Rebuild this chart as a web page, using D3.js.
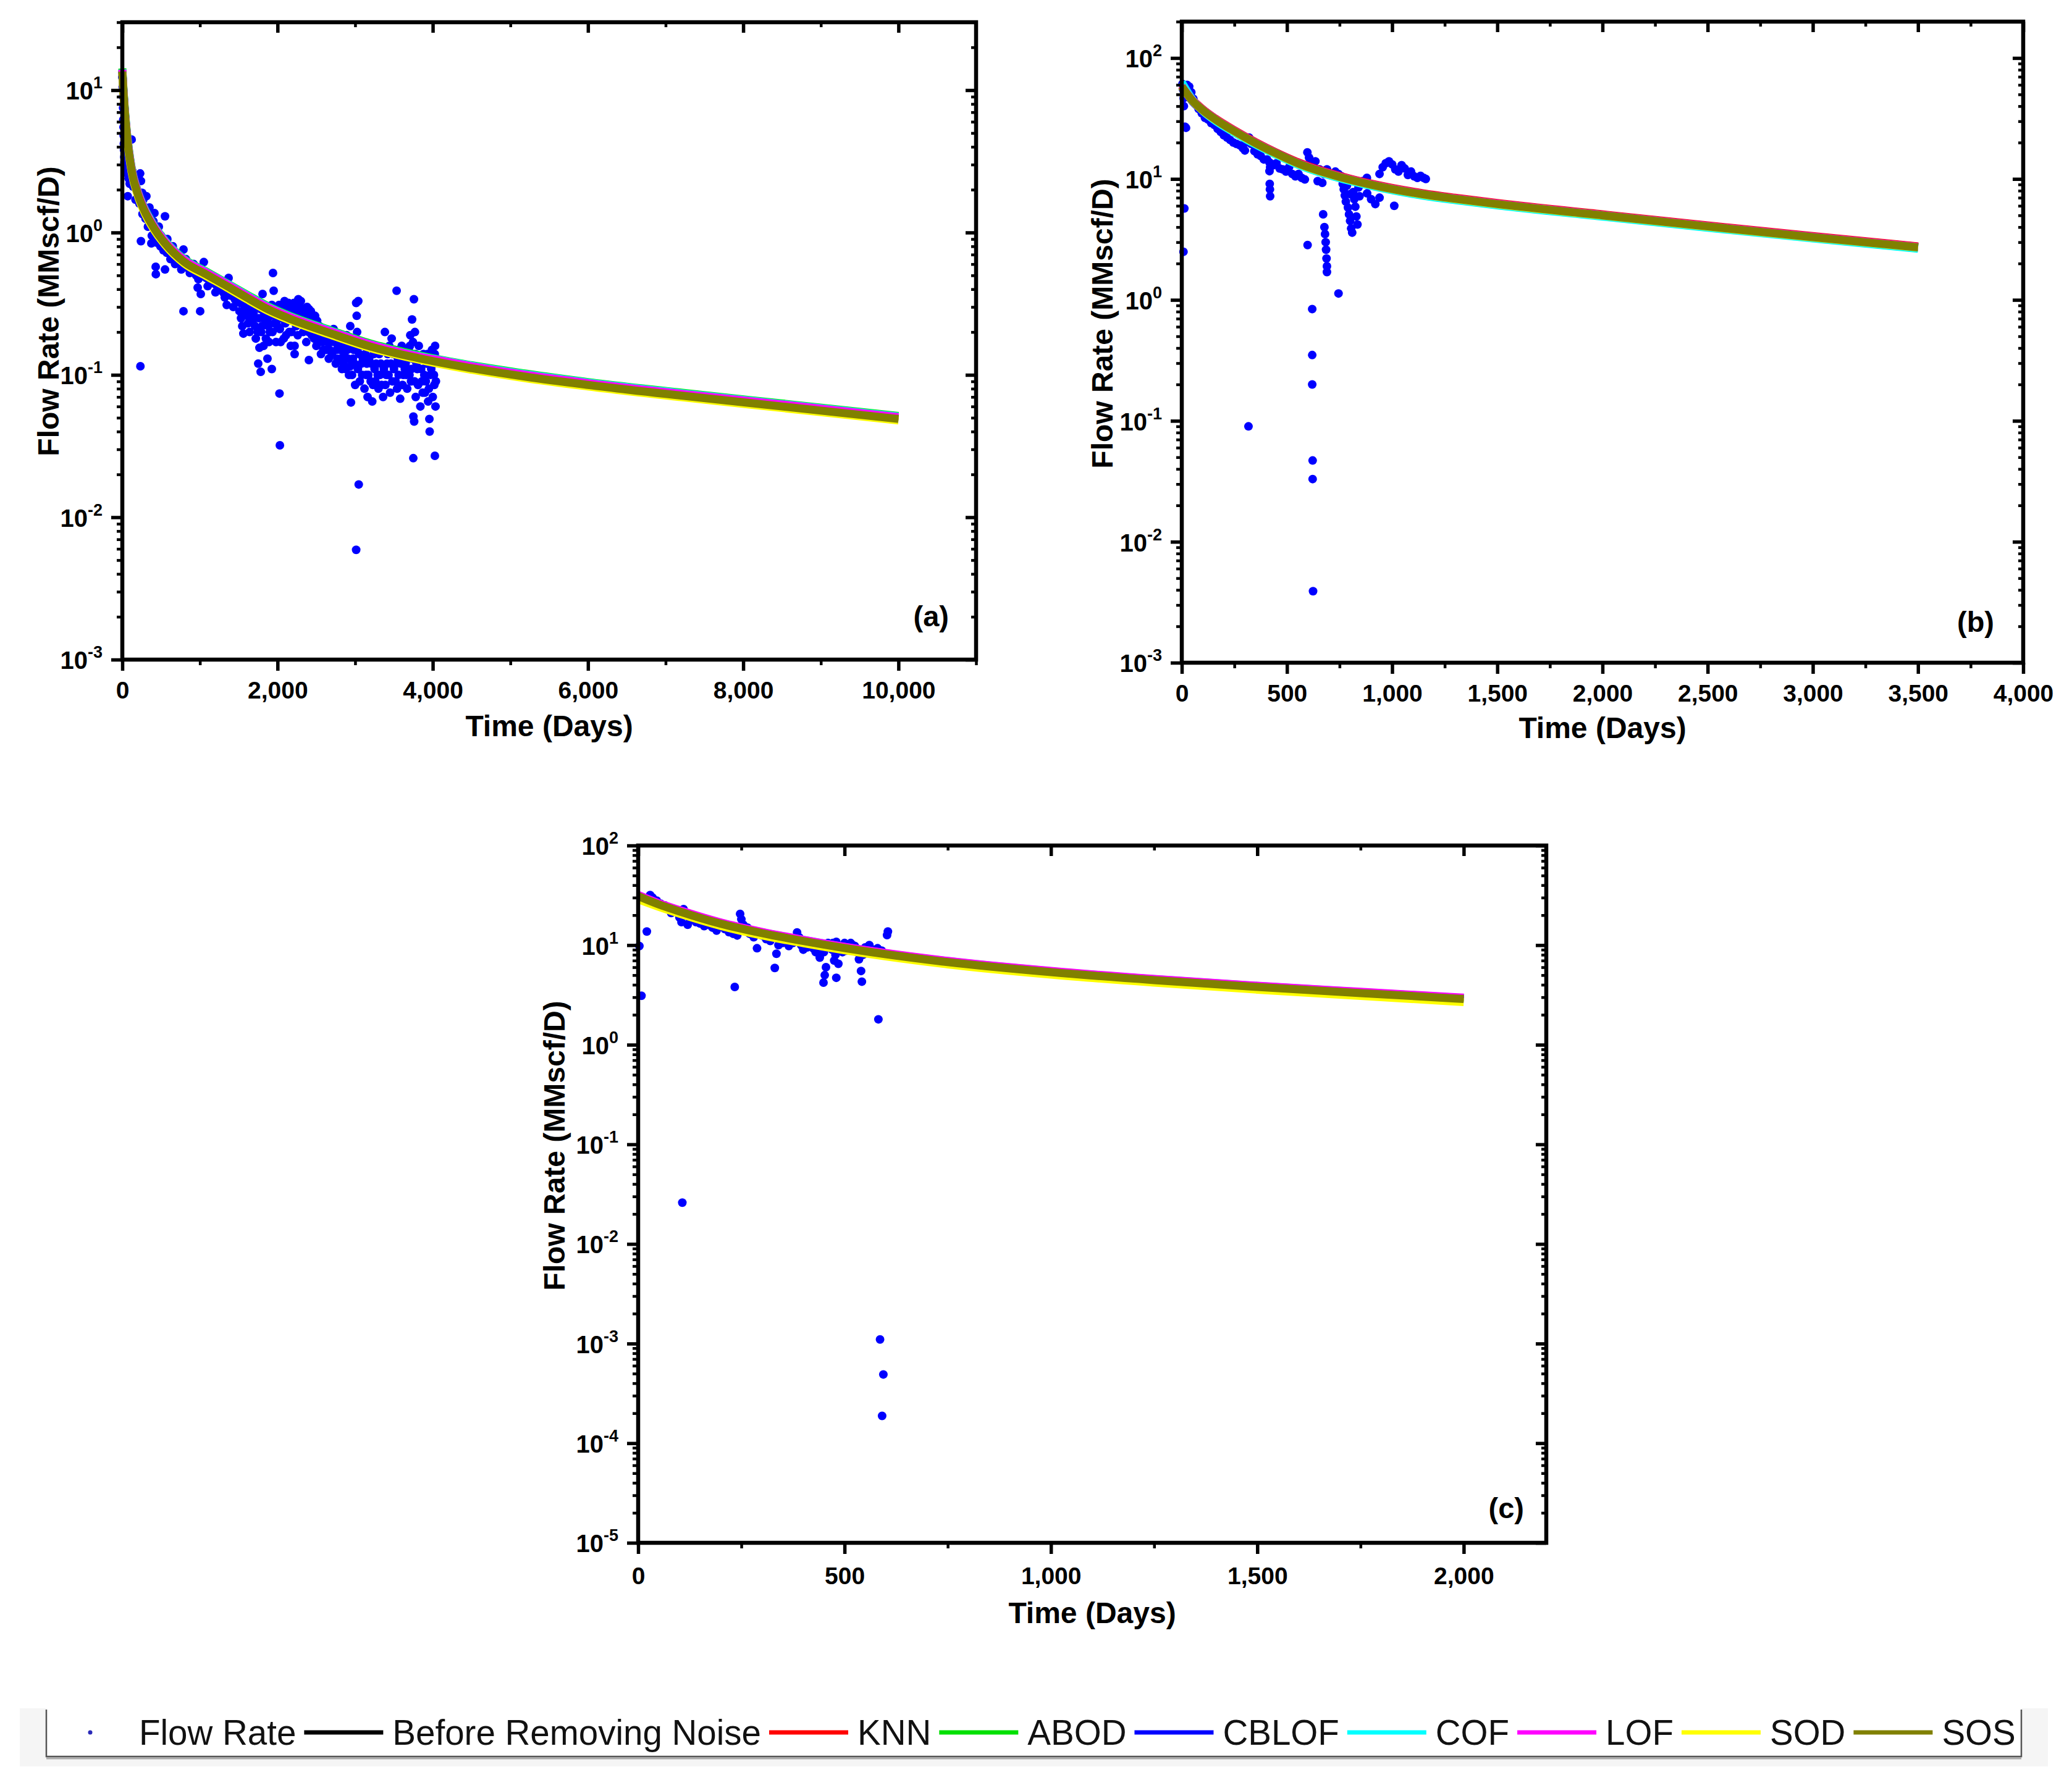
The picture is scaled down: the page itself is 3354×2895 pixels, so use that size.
<!DOCTYPE html>
<html>
<head>
<meta charset="utf-8">
<script src="https://cdn.jsdelivr.net/npm/d3@7"></script>
<style>
  body { margin: 0; background: #fff; }
  svg text { font-family: "Liberation Sans", Arial, sans-serif; }
</style>
</head>
<body>
<svg id="chart" width="3354" height="2895"></svg>
<script>
// ---- series names / colours (legend order) ----
const seriesNames = ["Before Removing Noise", "KNN", "ABOD", "CBLOF", "COF", "LOF", "SOD", "SOS"];
const seriesColors = ["#000000", "#ff0000", "#00e000", "#0000ff", "#00ffff", "#ff00ff", "#ffff00", "#808000"];

// ---- panel (a) ----
const flowA = [
  [0,12.3],[5,10.5],[8,9],[10,7.5],[12,6.2],[15,5.5],[18,4.8],[20,4.2],[22,3.8],[25,3.4],[28,3.1],[30,2.9],
  [35,5],[40,4.4],[45,3.6],[50,3.2],[55,2.8],[60,2.6],[65,3.5],[70,1.8],[80,2.4],[90,3.0],[95,2.2],[100,3.2],
  [110,2.9],[120,4.5],[130,2.7],[140,2.1],[150,2.4],[160,2.2],[170,1.7],[180,2.0],[190,2.3],[200,1.9],[210,2.5],
  [220,1.6],[230,2.6],[240,2.3],[233,0.115],[240,0.87],[255,1.9],[260,1.35],[270,1.7],[290,1.5],[300,1.25],
  [310,1.8],[320,1.45],[330,1.1],[340,1.3],[350,1.5],[360,1.25],[374,0.84],[380,0.95],[390,1.15],[400,1.2],
  [414,1.37],[420,1.05],[430,0.575],[432,0.51],[440,0.85],[450,0.98],[470,1.1],[480,0.9],[490,0.8],[500,0.95],
  [520,0.85],[530,0.75],[550,1.3],[550,0.55],[560,0.8],[573,0.72],[580,0.9],[600,0.78],[620,0.65],[630,0.72],
  [650,0.8],[660,0.7],[680,0.6],[700,0.66],[720,0.7],[740,0.62],[760,0.55],[788,0.76],[788,0.28],[800,0.6],
  [820,0.65],[850,0.56],[870,0.52],[900,0.55],[920,0.6],[950,0.5],[971,0.41],[980,0.47],[1003,0.28],[1011,0.37],
  [1030,0.5],[1050,0.62],[1080,0.48],[1100,0.42],[1120,0.46],[1150,0.5],[1170,0.44],[1200,0.38],[1220,0.42],
  [1250,0.45],[1260,0.4],[1300,0.38],[1320,0.35],[1345,0.31],[1369,0.48],[1380,0.4],[1400,0.36],[1430,0.3],
  [1450,0.34],[1470,0.38],[1480,0.33],
  [1510,0.28],[1520,0.32],[1530,0.25],[1545,0.22],[1560,0.195],[1575,0.27],[1580,0.3],[1592,0.36],[1600,0.31],
  [1608,0.26],[1620,0.23],[1640,0.2],[1650,0.28],[1660,0.32],[1680,0.24],[1690,0.27],[1700,0.3],[1710,0.22],
  [1720,0.18],[1743,0.2],[1751,0.12],[1760,0.25],[1767,0.155],[1780,0.29],[1783,0.105],[1790,0.2],[1800,0.22],
  [1807,0.37],[1820,0.16],[1830,0.27],[1840,0.24],[1850,0.18],[1860,0.3],[1870,0.13],[1870,0.245],[1880,0.22],
  [1890,0.17],[1900,0.2],[1910,0.26],[1926,0.11],[1926,0.31],[1935,0.2],[1941,0.52],[1950,0.39],[1960,0.23],
  [1970,0.28],[1980,0.17],[1990,0.24],[2025,0.074],[2030,0.032],
  [2000,0.22],[2010,0.28],[2020,0.31],[2030,0.21],[2040,0.17],[2050,0.25],[2060,0.27],[2070,0.3],[2080,0.18],
  [2090,0.33],[2100,0.23],[2110,0.19],[2120,0.27],[2130,0.24],[2141,0.32],[2150,0.2],[2160,0.29],[2170,0.16],
  [2180,0.2],[2190,0.25],[2200,0.29],[2210,0.32],[2220,0.16],[2220,0.14],[2230,0.26],[2240,0.22],[2250,0.3],
  [2260,0.19],[2268,0.34],[2270,0.23],[2280,0.27],[2290,0.3],[2300,0.33],[2310,0.24],[2320,0.27],[2330,0.2],
  [2340,0.23],[2350,0.29],[2360,0.26],[2370,0.17],[2380,0.3],[2390,0.22],[2400,0.2],[2404,0.127],[2404,0.29],
  [2410,0.24],[2420,0.25],[2430,0.28],[2440,0.19],[2450,0.23],[2460,0.21],[2470,0.18],[2483,0.26],[2490,0.21],
  [2500,0.16],[2510,0.24],[2520,0.18],[2530,0.2],[2539,0.22],[2550,0.17],[2560,0.14],[2570,0.21],[2580,0.17],
  [2590,0.15],[2600,0.19],[2610,0.18],
  [2620,0.2],[2630,0.15],[2640,0.17],[2660,0.13],[2670,0.15],[2690,0.17],[2700,0.14],[2710,0.19],[2722,0.21],
  [2730,0.17],[2750,0.12],[2760,0.15],[2770,0.13],[2780,0.16],[2790,0.18],[2802,0.15],[2810,0.13],[2830,0.11],
  [2840,0.16],[2850,0.12],[2860,0.14],[2870,0.17],[2880,0.11],[2890,0.19],[2900,0.15],[2910,0.13],[2920,0.1],
  [2937,0.22],[2937,0.115],[2946,0.064],[2950,0.16],[2960,0.1],[2970,0.13],[2980,0.15],[2990,0.12],[3000,0.085],
  [3013,0.32],[3013,0.0059],[3020,0.26],[3025,0.2],[3030,0.15],[3035,0.11],[3040,0.33],[3046,0.017],[3050,0.14],
  [3060,0.09],[3070,0.17],[3080,0.12],[3090,0.1],[3100,0.13],[3110,0.16],[3120,0.08],[3130,0.14],[3140,0.1],
  [3150,0.12],[3160,0.07],[3170,0.1],[3180,0.13],[3190,0.16],[3200,0.09],[3210,0.12],[3220,0.065],[3230,0.085],
  [3240,0.14],[3250,0.11],[3260,0.09],[3270,0.12],[3280,0.15],[3290,0.1],[3300,0.08],[3310,0.14],[3320,0.1],
  [3330,0.12],[3340,0.085],[3350,0.15],[3360,0.07],[3370,0.11],[3383,0.2],[3390,0.085],[3400,0.1],[3410,0.12],
  [3420,0.14],[3430,0.1],[3440,0.16],[3450,0.075],[3460,0.12],[3470,0.18],[3480,0.09],[3490,0.14],[3500,0.11],
  [3510,0.15],[3520,0.09],[3530,0.12],[3534,0.39],[3540,0.08],[3550,0.13],[3560,0.1],[3570,0.15],[3580,0.068],
  [3590,0.12],[3600,0.16],[3610,0.085],[3620,0.1],[3630,0.14],[3640,0.11],[3650,0.12],[3660,0.1],[3670,0.08],
  [3680,0.13],[3690,0.15],[3700,0.1],[3705,0.16],[3710,0.19],[3720,0.09],[3725,0.11],[3733,0.245],[3740,0.13],
  [3745,0.17],[3749,0.026],[3750,0.051],[3757,0.34],[3760,0.047],[3765,0.09],[3770,0.2],[3775,0.14],[3780,0.07],
  [3790,0.12],[3800,0.11],[3810,0.085],[3820,0.16],[3830,0.13],[3840,0.06],[3850,0.11],[3860,0.09],[3870,0.075],
  [3880,0.14],[3890,0.1],[3900,0.075],[3910,0.09],[3920,0.12],[3930,0.14],[3940,0.065],[3950,0.08],[3956,0.049],
  [3960,0.04],[3970,0.1],[3980,0.11],[3990,0.15],[4000,0.07],[4000,0.13],[4010,0.12],[4015,0.1],[4020,0.085],
  [4025,0.14],[4027,0.027],[4030,0.16],[4035,0.06],[4040,0.09]
];
const tA = [0, 15, 30, 50, 72, 120, 200, 280, 410, 550, 800, 1075, 1350, 1600, 1870, 2140, 2670, 3200, 3730, 4000, 5200, 6000, 7200, 8500, 10000];
const beforeA = [13.6, 9.7, 7.37, 5.45, 4.19, 2.75, 1.88, 1.45, 1.08, 0.85, 0.626, 0.515, 0.424, 0.354, 0.293, 0.253, 0.199, 0.16, 0.135, 0.126, 0.098, 0.086, 0.0722, 0.0606, 0.0495];
const knnA    = [13.7, 9.75, 7.4, 5.48, 4.21, 2.76, 1.89, 1.46, 1.09, 0.853, 0.63, 0.518, 0.426, 0.355, 0.294, 0.254, 0.2, 0.16, 0.136, 0.127, 0.0985, 0.0863, 0.0726, 0.0609, 0.0497];
const abodA   = [14.2, 10.1, 7.67, 5.67, 4.36, 2.86, 1.95, 1.51, 1.12, 0.88, 0.65, 0.535, 0.44, 0.368, 0.305, 0.263, 0.207, 0.166, 0.141, 0.131, 0.102, 0.089, 0.075, 0.063, 0.0515];
const cblofA  = [13.4, 9.5, 7.23, 5.35, 4.11, 2.69, 1.84, 1.43, 1.06, 0.832, 0.614, 0.505, 0.416, 0.347, 0.287, 0.248, 0.195, 0.156, 0.133, 0.124, 0.096, 0.084, 0.0708, 0.0594, 0.0485];
const cofA    = [14.0, 10.0, 7.6, 5.62, 4.32, 2.83, 1.93, 1.5, 1.11, 0.874, 0.645, 0.53, 0.437, 0.364, 0.302, 0.26, 0.205, 0.164, 0.139, 0.13, 0.101, 0.0884, 0.0744, 0.0624, 0.051];
const lofA    = [13.9, 9.9, 7.52, 5.56, 4.27, 2.8, 1.92, 1.48, 1.1, 0.865, 0.64, 0.525, 0.433, 0.36, 0.299, 0.258, 0.203, 0.163, 0.138, 0.129, 0.1, 0.0875, 0.0736, 0.062, 0.0505];
const sodA    = [13.2, 9.36, 7.12, 5.27, 4.05, 2.65, 1.81, 1.4, 1.04, 0.82, 0.605, 0.497, 0.41, 0.341, 0.283, 0.244, 0.192, 0.154, 0.131, 0.122, 0.0946, 0.0829, 0.0697, 0.0585, 0.0478];
const sosA    = [13.5, 9.6, 7.3, 5.4, 4.15, 2.72, 1.86, 1.44, 1.07, 0.84, 0.62, 0.51, 0.42, 0.35, 0.29, 0.25, 0.197, 0.158, 0.134, 0.125, 0.097, 0.085, 0.0715, 0.060, 0.049];
const xTicksA = [0, 2000, 4000, 6000, 8000, 10000];
const xMinorA = [1000, 3000, 5000, 7000, 9000, 11000];

// ---- panel (b) ----
const flowB = [
  [3,61],[6,55],[9,46.6],[10,40],[12,5.7],[8,2.5],[15,27],[20,26.5],[25,60],[35,58],[45,52],
  [55,46],[65,42],[80,38],[95,35],[110,32],[125,31],[140,29],[155,28],[170,26],[185,24.5],[200,23],[215,22],
  [230,21],[245,20],[260,19.5],[275,19],[290,18],[300,17.2],[305,20],[317,0.09],[320,22],[330,19.5],[345,17],
  [360,16],[375,15.5],[390,14.5],[405,14.5],[417,13.7],[420,12.5],[417,11.6],[418,9.1],[419,8.2],[420,7.2],
  [435,13],[450,13.5],[465,12.2],[480,12],[495,11.5],[510,12.5],[525,11],[540,10.5],[555,11],[570,10.2],
  [585,9.9],[598,2.84],
  [597,16.6],[605,15],[615,13.5],[625,12.5],[635,14],[646,9.6],[655,12],[665,11.5],[675,11],[690,12],[700,11.2],
  [715,10.8],[730,11.5],[745,11],[760,10.5],
  [620,0.84],[620,0.35],[620,0.2],[622,0.047],[622,0.033],[624,0.0039],
  [668,9.3],[672,5.1],[678,4.0],[681,3.5],[684,3.0],[686,2.6],[688,2.2],[690,1.9],[690,1.7],[745,1.13],
  [765,9.1],[770,8.2],[775,7.3],[780,6.5],[785,8.8],[790,5.8],[795,5.1],[800,4.5],[805,3.9],[810,3.6],[815,7.8],
  [820,6.8],[825,5.9],[830,4.9],[835,4.2],[840,8.5],[845,7.2],[800,7.5],[790,9.5],
  [881,7.6],[900,6.8],[920,6.2],[940,7.0],[860,9.6],[880,10.2],
  [940,11],[955,12.5],[970,13.5],[985,14],[1000,13.2],[1010,6.0],[1015,12],[1030,11.5],[1045,13],[1060,12.2],
  [1075,10.8],[1090,11.5],[1105,10.5],[1120,10.2],[1135,10.6],[1150,10.2],[1160,10]
];
const tB = [0, 50, 100, 160, 250, 350, 450, 550, 750, 950, 1150, 1300, 1500, 2000, 2500, 3000, 3500];
const beforeB = [58.6, 44.9, 37.4, 31.3, 25.0, 20.0, 16.4, 13.6, 10.5, 8.69, 7.52, 6.92, 6.26, 5.05, 4.09, 3.33, 2.75];
const knnB    = [59.2, 45.4, 37.7, 31.6, 25.3, 20.2, 16.5, 13.8, 10.6, 8.77, 7.6, 6.99, 6.32, 5.1, 4.13, 3.37, 2.77];
const abodB   = [58.3, 44.7, 37.2, 31.2, 24.9, 19.9, 16.3, 13.57, 10.45, 8.64, 7.49, 6.88, 6.23, 5.03, 4.07, 3.32, 2.73];
const cblofB  = [57.1, 43.8, 36.4, 30.5, 24.4, 19.5, 15.96, 13.3, 10.24, 8.47, 7.34, 6.75, 6.11, 4.93, 3.99, 3.25, 2.68];
const cofB    = [63, 45.5, 36.5, 30.2, 24.2, 19.3, 15.8, 13.16, 10.14, 8.39, 7.26, 6.68, 6.05, 4.88, 3.95, 3.22, 2.65];
const lofB    = [58.5, 44.85, 37.3, 31.25, 25.0, 19.96, 16.33, 13.6, 10.48, 8.67, 7.51, 6.9, 6.25, 5.04, 4.08, 3.33, 2.74];
const sodB    = [57.7, 44.3, 36.8, 30.85, 24.7, 19.7, 16.1, 13.43, 10.35, 8.56, 7.41, 6.82, 6.17, 4.98, 4.03, 3.28, 2.71];
const sosB    = [58, 44.5, 37, 31, 24.8, 19.8, 16.2, 13.5, 10.4, 8.6, 7.45, 6.85, 6.2, 5.0, 4.05, 3.3, 2.72];
const xTicksB = [0, 500, 1000, 1500, 2000, 2500, 3000, 3500, 4000];
const xMinorB = [250, 750, 1250, 1750, 2250, 2750, 3250, 3750];

// ---- panel (c) ----
const flowC = [
  [3,9.8],[8,3.1],[21,13.7],[29,31.8],[35,30],[40,27],[45,28],[55,26],[60,24],[65,25],[75,24],[80,21],[90,22],
  [100,19],[105,17],[107,0.026],[110,23],[115,21],[120,16],[125,18],[130,19],[140,17],[150,16.5],[160,15.5],
  [170,16],[180,15],[190,14],[200,16.5],[210,14.5],[220,13.5],[230,13],[234,3.8],[240,12.5],[247,20.6],[250,18.2],
  [255,16],[260,14],[265,15],[270,13],[280,12],[288,9.3],[290,13.5],[300,12.5],[310,11.5],[320,11],[331,5.9],
  [335,8.2],[340,10],[350,10.5],[360,11.5],[365,9.8],[375,10.5],[380,11],[385,13.4],[390,12],[395,10],[400,9],
  [405,10.8],[410,9.5],[415,10],[420,10.5],[425,9.2],[430,8.5],[435,10],[440,7.5],[445,9.5],[449,4.2],[450,8.5],
  [452,5],[455,6],[460,10.5],[465,9.8],[470,9],[472,10.5],[475,7],[478,8],[480,10.8],[485,6.5],[480,4.7],[490,9.5],
  [495,8.5],[500,10.5],[505,8.8],[510,9],[515,10.5],[520,10],[525,9.8],[530,8.5],[535,7.2],[540,5.5],[542,4.3],
  [545,8],[550,9.5],[555,9],[560,10],[565,8.5],[570,9],[575,8.2],[580,9.3],[590,8.8],[582,1.8],[586,0.0011],
  [591,0.000188],[594,0.00049],[603,12.6],[605,13.7]
];
const tC = [0, 50, 100, 200, 300, 400, 500, 600, 750, 1000, 1250, 1500, 1750, 2000];
const beforeC = [31.3, 25.9, 22.0, 16.6, 13.3, 11.1, 9.44, 8.18, 6.82, 5.4, 4.49, 3.84, 3.33, 2.91];
const knnC    = [31.5, 26.0, 22.2, 16.7, 13.4, 11.2, 9.5, 8.24, 6.86, 5.44, 4.53, 3.86, 3.36, 2.93];
const abodC   = [31.6, 26.1, 22.2, 16.7, 13.46, 11.22, 9.54, 8.26, 6.89, 5.46, 4.54, 3.88, 3.37, 2.94];
const cblofC  = [30.7, 25.3, 21.6, 16.2, 13.1, 10.9, 9.26, 8.02, 6.68, 5.3, 4.41, 3.76, 3.27, 2.85];
const cofC    = [31.8, 26.2, 22.3, 16.8, 13.5, 11.3, 9.58, 8.3, 6.92, 5.48, 4.56, 3.9, 3.38, 2.95];
const lofC    = [31.9, 26.4, 22.5, 16.9, 13.6, 11.33, 9.63, 8.34, 6.95, 5.51, 4.58, 3.91, 3.4, 2.97];
const sodC    = [28.8, 24.2, 20.7, 15.6, 12.5, 10.45, 8.88, 7.7, 6.41, 5.06, 4.2, 3.57, 3.09, 2.68];
const sosC    = [31, 25.6, 21.8, 16.4, 13.2, 11.0, 9.35, 8.1, 6.75, 5.35, 4.45, 3.8, 3.3, 2.88];
const xTicksC = [0, 500, 1000, 1500, 2000];
const xMinorC = [250, 750, 1250, 1750];

const panels = [
  { tag: "(a)", box: { l: 198, r: 1580, t: 36, b: 1068 }, xDomain: [0, 11000], yDomain: [1e-3, 30], yExp: [-3, 1],
    xTicks: xTicksA, xMinor: xMinorA, flow: flowA, t: tA,
    series: [beforeA, knnA, abodA, cblofA, cofA, lofA, sodA, sosA],
    yTitle: [95, 504], xTitleDy: 124, xLabDy: 63, tagOff: [44, 54] },
  { tag: "(b)", box: { l: 1913, r: 3275, t: 35, b: 1073 }, xDomain: [0, 4000], yDomain: [1e-3, 200], yExp: [-3, 2],
    xTicks: xTicksB, xMinor: xMinorB, flow: flowB, t: tB,
    series: [beforeB, knnB, abodB, cblofB, cofB, lofB, sodB, sosB],
    yTitle: [1801, 524], xTitleDy: 122, xLabDy: 63, tagOff: [47, 50] },
  { tag: "(c)", box: { l: 1033, r: 2503, t: 1369, b: 2498 }, xDomain: [0, 2200], yDomain: [1e-5, 100], yExp: [-5, 2],
    xTicks: xTicksC, xMinor: xMinorC, flow: flowC, t: tC,
    series: [beforeC, knnC, abodC, cblofC, cofC, lofC, sodC, sosC],
    yTitle: [914, 1855], xTitleDy: 130, xLabDy: 67, tagOff: [36, 40] }
];

const svg = d3.select("#chart");

function drawPanel(p) {
  const { l, r, t, b } = p.box;
  const x = d3.scaleLinear().domain(p.xDomain).range([l, r]);
  const y = d3.scaleLog().domain(p.yDomain).range([b, t]);
  const g = svg.append("g");

  // DOTS
  g.append("g").selectAll("circle")
    .data(p.flow)
    .join("circle")
    .attr("cx", d => x(d[0]))
    .attr("cy", d => y(d[1]))
    .attr("r", 7)
    .attr("fill", "#0000ff");

  // CURVES
  const line = d3.line()
    .x(d => x(d[0]))
    .y(d => y(d[1]))
    .curve(d3.curveMonotoneX);

  g.append("g").selectAll("path")
    .data(p.series)
    .join("path")
    .attr("d", vals => line(p.t.map((tt, j) => [tt, vals[j]])))
    .attr("fill", "none")
    .attr("stroke", (d, i) => seriesColors[i])
    .attr("stroke-width", 13);

  // AXES
  const yMajor = d3.range(p.yExp[0], p.yExp[1] + 1).map(e => Math.pow(10, e));
  const yMinor = [];
  d3.range(p.yExp[0], p.yExp[1] + 1).forEach(e => {
    for (let k = 2; k <= 9; k++) {
      const v = k * Math.pow(10, e);
      if (v <= p.yDomain[1] * 1.001) yMinor.push(v);
    }
  });

  const axis = (gen, tr, w) => {
    const a = g.append("g").attr("transform", tr).call(gen);
    a.select(".domain").remove();
    a.selectAll("line").attr("stroke", "#000").attr("stroke-width", w);
    return a;
  };

  const xb = axis(d3.axisBottom(x).tickValues(p.xTicks).tickSize(18).tickFormat(d3.format(",")), `translate(0,${b})`, 5.5);
  axis(d3.axisBottom(x).tickValues(p.xMinor).tickSize(9).tickFormat(""), `translate(0,${b})`, 4.5);
  axis(d3.axisTop(x).tickValues(p.xTicks).tickSize(-17).tickFormat(""), `translate(0,${t})`, 5.5);
  axis(d3.axisTop(x).tickValues(p.xMinor).tickSize(-8).tickFormat(""), `translate(0,${t})`, 4.5);

  xb.selectAll("text")
    .attr("y", p.xLabDy)
    .attr("dy", null)
    .attr("fill", "#000")
    .attr("font-size", 39)
    .attr("font-weight", "bold");

  const yl = axis(d3.axisLeft(y).tickValues(yMajor).tickSize(18), `translate(${l},0)`, 5.5);
  axis(d3.axisLeft(y).tickValues(yMinor).tickSize(9).tickFormat(""), `translate(${l},0)`, 4.5);
  axis(d3.axisRight(y).tickValues(yMajor).tickSize(-17).tickFormat(""), `translate(${r},0)`, 5.5);
  axis(d3.axisRight(y).tickValues(yMinor).tickSize(-8).tickFormat(""), `translate(${r},0)`, 4.5);

  yl.selectAll("text")
    .attr("x", -32)
    .attr("dy", "0.37em")
    .attr("fill", "#000")
    .attr("font-size", 40)
    .attr("font-weight", "bold")
    .each(function(d) {
      const e = Math.round(Math.log10(d));
      const txt = d3.select(this).text("10");
      txt.append("tspan").attr("dy", -18).attr("font-size", 27).text(e);
    });

  // FRAME
  g.append("rect")
    .attr("x", l).attr("y", t)
    .attr("width", r - l).attr("height", b - t)
    .attr("fill", "none")
    .attr("stroke", "#000")
    .attr("stroke-width", 6.5);

  // TITLES
  g.append("text")
    .attr("x", (l + r) / 2)
    .attr("y", b + p.xTitleDy)
    .attr("text-anchor", "middle")
    .attr("font-size", 48)
    .attr("font-weight", "bold")
    .text("Time (Days)");

  g.append("text")
    .attr("transform", `translate(${p.yTitle[0]},${p.yTitle[1]}) rotate(-90)`)
    .attr("text-anchor", "middle")
    .attr("font-size", 48)
    .attr("font-weight", "bold")
    .text("Flow Rate (MMscf/D)");

  g.append("text")
    .attr("x", r - p.tagOff[0])
    .attr("y", b - p.tagOff[1])
    .attr("text-anchor", "end")
    .attr("font-size", 47)
    .attr("font-weight", "bold")
    .text(p.tag);
}

panels.forEach(drawPanel);

// LEGEND
const legend = svg.append("g");
legend.append("rect").attr("x", 32).attr("y", 2766).attr("width", 3283).attr("height", 94).attr("fill", "#f5f5f5");
legend.append("rect").attr("x", 75).attr("y", 2766).attr("width", 3197).attr("height", 78).attr("fill", "#fff");
legend.append("line").attr("x1", 75).attr("x2", 3272).attr("y1", 2847).attr("y2", 2847).attr("stroke", "#aaa").attr("stroke-width", 3);
legend.append("path")
  .attr("d", "M75,2768V2844H3272V2768")
  .attr("fill", "none")
  .attr("stroke", "#555")
  .attr("stroke-width", 2.5);

const legY = 2805;
legend.append("circle").attr("cx", 146).attr("cy", legY).attr("r", 3.5).attr("fill", "#2a2ab8");
const first = legend.append("text")
  .attr("x", 225).attr("y", legY + 20)
  .attr("font-size", 56.5).attr("fill", "#111")
  .text("Flow Rate");
let cursor = 225 + first.node().getComputedTextLength();

seriesNames.forEach((name, i) => {
  legend.append("line")
    .attr("x1", cursor + 13).attr("x2", cursor + 141)
    .attr("y1", legY).attr("y2", legY)
    .attr("stroke", seriesColors[i])
    .attr("stroke-width", 7);
  const tx = legend.append("text")
    .attr("x", cursor + 156).attr("y", legY + 20)
    .attr("font-size", 56.5).attr("fill", "#111")
    .text(name);
  cursor = cursor + 156 + tx.node().getComputedTextLength();
});
</script>
</body>
</html>
